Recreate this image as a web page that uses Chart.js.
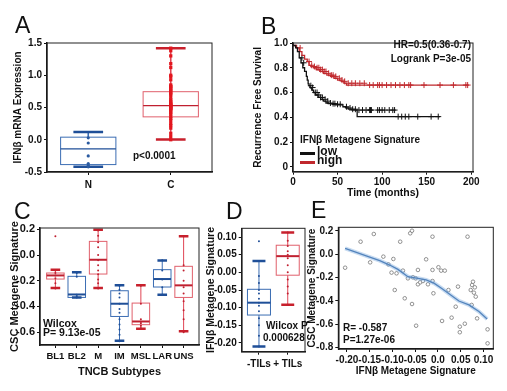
<!DOCTYPE html>
<html>
<head>
<meta charset="utf-8">
<script src="https://cdn.jsdelivr.net/npm/chart.js@4.4.0/dist/chart.umd.min.js"></script>
<style>
html, body { margin: 0; padding: 0; background: #fff; }
#wrap { position: relative; width: 507px; height: 391px; overflow: hidden; font-family: Arial, "Liberation Sans", sans-serif; color: #111; }
canvas { position: absolute; left: 0; top: 0; }
.lbl { position: absolute; white-space: nowrap; line-height: 1; }
.big { font-size: 23px; font-weight: normal; }
.note { font-size: 10px; font-weight: bold; }
.sw { position: absolute; height: 2.5px; width: 15px; }
</style>
</head>
<body>
<div id="wrap">
  <canvas id="cA" width="507" height="391"></canvas>
  <canvas id="cB" width="507" height="391"></canvas>
  <canvas id="cC" width="507" height="391"></canvas>
  <canvas id="cD" width="507" height="391"></canvas>
  <canvas id="cE" width="507" height="391"></canvas>

  <div class="lbl big" style="left:15px;top:14px;">A</div>
  <div class="lbl big" style="left:261px;top:15px;">B</div>
  <div class="lbl big" style="left:14px;top:200px;">C</div>
  <div class="lbl big" style="left:226px;top:200px;">D</div>
  <div class="lbl big" style="left:311px;top:199px;">E</div>

  <div class="lbl note" style="left:133px;top:151px;">p&lt;0.0001</div>

  <div class="lbl note" style="right:36px;top:40px;text-align:right;">HR=0.5(0.36-0.7)</div>
  <div class="lbl note" style="right:36px;top:54px;text-align:right;">Logrank P=3e-05</div>
  <div class="lbl note" style="left:300px;top:135px;">IFNβ Metagene Signature</div>
  <div class="sw" style="left:300px;top:152px;background:#111;"></div>
  <div class="lbl note" style="left:317px;top:145px;font-size:12px;">low</div>
  <div class="sw" style="left:300px;top:161px;background:#c0282d;"></div>
  <div class="lbl note" style="left:317px;top:154px;font-size:12px;">high</div>

  <div class="lbl note" style="left:43px;top:318px;font-size:10.5px;">Wilcox</div>
  <div class="lbl note" style="left:43px;top:327px;font-size:10.5px;">P= 9.13e-05</div>

  <div class="lbl note" style="left:266px;top:321px;">Wilcox P</div>
  <div class="lbl note" style="left:263px;top:333px;">0.000628</div>

  <div class="lbl note" style="left:343px;top:323px;">R= -0.587</div>
  <div class="lbl note" style="left:343px;top:335px;">P=1.27e-06</div>
</div>

<script>
// ---- Panel A: IFNb mRNA expression, normal vs cancer
const aCats = ['N', 'C'];
const aStats = [            // [low whisker, q1, median, q3, high whisker]
    [-0.42, -0.385, -0.14, 0.04, 0.12],
    [0.005, 0.355, 0.53, 0.745, 1.42]
];
const aPointsN = [0.03, -0.05, -0.25, -0.37, -0.40, -0.42];
const aPointsC = [1.42, 1.38, 1.30, 1.18, 1.12, 1.0, 0.98, 0.93, 0.85, 0.83, 0.82, 0.80, 0.78, 0.76,
    0.74, 0.72, 0.70, 0.66, 0.62, 0.60, 0.58, 0.56, 0.55, 0.54, 0.53, 0.52, 0.51, 0.50, 0.49, 0.48,
    0.47, 0.45, 0.42, 0.40, 0.36, 0.33, 0.30, 0.25, 0.22, 0.18, 0.10, 0.05, 0.0];
const aYTicks = [-0.5, 0, 0.5, 1.0, 1.5];

// ---- Panel B: Kaplan-Meier, recurrence free survival
const lowT = [0, 3, 5, 7, 9, 11, 13, 15, 16, 17, 18, 19, 21, 23, 25, 28, 31, 34, 37, 40, 44, 48, 56, 59, 62, 66, 72, 116, 165];
const lowS = [1.0, 0.98, 0.96, 0.93, 0.88, 0.84, 0.80, 0.77, 0.73, 0.70, 0.67, 0.655, 0.64, 0.62, 0.60, 0.58, 0.56, 0.545, 0.53, 0.515, 0.51, 0.505, 0.50, 0.485, 0.475, 0.465, 0.458, 0.405, 0.405];
const highT = [0, 4, 7, 10, 13, 16, 18, 20, 23, 26, 30, 34, 38, 42, 46, 50, 54, 57, 60, 85, 197];
const highS = [1.0, 0.98, 0.96, 0.93, 0.90, 0.87, 0.85, 0.82, 0.81, 0.80, 0.785, 0.77, 0.755, 0.74, 0.73, 0.715, 0.70, 0.69, 0.675, 0.66, 0.66];
const lowCensor = [10, 12, 20, 22, 25, 27, 29, 31, 33, 36, 39, 42, 45, 47, 50, 53, 60, 64, 67, 70, 74, 78, 82, 86, 87, 88,
    95, 97, 100, 103, 108, 112, 114, 118, 122, 126, 130, 140, 155, 163];
const highCensor = [8, 18, 21, 24, 27, 29, 31, 33, 35, 37, 40, 43, 45, 48, 52, 55, 58, 62, 66, 70, 75, 80, 86, 90, 95, 97,
    100, 105, 110, 115, 120, 125, 130, 132, 147, 165, 180, 194, 196];
const bXTicks = [0, 50, 100, 150, 200];
const bYTicks = [0, 0.2, 0.4, 0.6, 0.8, 1.0];

// ---- Panel C: CSC metagene by TNBC subtype
const cCats = ['BL1', 'BL2', 'M', 'IM', 'MSL', 'LAR', 'UNS'];
const cStats = [
    [-0.257, -0.187, -0.159, -0.14, -0.114],
    [-0.33, -0.33, -0.307, -0.166, -0.135],
    [-0.257, -0.148, -0.037, 0.106, 0.197],
    [-0.667, -0.478, -0.379, -0.278, -0.236],
    [-0.574, -0.542, -0.517, -0.374, -0.236],
    [-0.309, -0.249, -0.187, -0.114, -0.042],
    [-0.594, -0.33, -0.236, -0.088, 0.145]
];
const cPoints = [
    [0.145, -0.12, -0.14, -0.16, -0.18, -0.22, -0.26],
    [-0.14, -0.17, -0.31, -0.32, -0.33],
    [0.19, 0.15, 0.10, 0.06, 0.0, -0.04, -0.08, -0.12, -0.15, -0.19, -0.22, -0.26],
    [-0.24, -0.27, -0.30, -0.33, -0.38, -0.42, -0.45, -0.50, -0.54, -0.58, -0.62, -0.67],
    [-0.24, -0.38, -0.50, -0.52, -0.53, -0.55, -0.57],
    [-0.04, -0.12, -0.19, -0.25, -0.31],
    [0.145, -0.08, -0.12, -0.2, -0.25, -0.3, -0.36, -0.43, -0.5, -0.6]
];
const cColors = ['red', 'blue', 'red', 'blue', 'red', 'blue', 'red'];
const cYTicks = [-0.6, -0.4, -0.2, 0, 0.2];

// ---- Panel D: IFNb metagene vs TILs
const dCats = ['-TILs', '+ TILs'];
const dStats = [
    [-0.21, -0.121, -0.086, -0.048, 0.032],
    [-0.092, -0.008, 0.046, 0.077, 0.113]
];
const dPoints = [
    [0.088, 0.032, -0.01, -0.03, -0.05, -0.06, -0.075, -0.086, -0.095, -0.11, -0.13, -0.15, -0.18, -0.21],
    [0.113, 0.09, 0.075, 0.06, 0.05, 0.04, 0.02, 0.0, -0.02, -0.04, -0.06, -0.092]
];
const dYTicks = [-0.2, -0.15, -0.1, -0.05, 0, 0.05, 0.1];

// ---- Panel E: CSC vs IFNb metagene scatter with smooth fit
const eX = [-0.204, -0.170, -0.149, -0.141, -0.120, -0.109, -0.098, -0.102, -0.091, -0.095, -0.083, -0.073, -0.066,
    -0.061, -0.057, -0.057, -0.055, -0.049, -0.048, -0.044, -0.044, -0.039, -0.033, -0.026, -0.022, -0.012, -0.012,
    -0.010, -0.012, 0.001, 0.007, 0.015, 0.009, 0.023, 0.030, 0.039, 0.044, 0.048, 0.048, 0.059, 0.065, 0.072, 0.075,
    0.077, 0.079, 0.081, 0.074, 0.083, 0.086, 0.109, 0.109, -0.077];
const eY = [-0.115, 0.108, -0.069, 0.174, -0.02, -0.086, -0.04, -0.157, -0.163, -0.306, 0.108, -0.377, -0.206,
    0.18, 0.202, -0.426, -0.197, -0.206, -0.612, -0.134, -0.257, -0.24, -0.229, -0.043, -0.257, 0.151, -0.134,
    -0.334, -0.229, -0.111, -0.14, -0.14, -0.571, -0.306, -0.543, -0.449, -0.277, -0.62, -0.668, -0.595, 0.151,
    -0.306, -0.263, -0.235, -0.329, -0.283, -0.434, -0.363, -0.549, -0.643, -0.763, -0.14];
const fitX = [-0.204, -0.153, -0.128, -0.106, -0.088, -0.066, -0.044, -0.026, -0.008, 0.010, 0.028, 0.046, 0.068, 0.090, 0.108];
const fitY = [0.051, -0.02, -0.055, -0.092, -0.129, -0.192, -0.206, -0.22, -0.249, -0.297, -0.349, -0.40, -0.434, -0.49, -0.554];
const eXTicks = [-0.2, -0.15, -0.1, -0.05, 0, 0.05, 0.1];
const eYTicks = [-0.8, -0.6, -0.4, -0.2, 0, 0.2];

// ---- shared look
const FONT = 'Arial, "Liberation Sans", sans-serif';
Chart.defaults.font.family = FONT;
Chart.defaults.font.weight = 'bold';
Chart.defaults.color = '#111';

const palette = {
    blue: { line: '#3b6db3', whisker: '#3b6db3', median: '#1f4f98', cap: '#1f4f98', point: '#2a5aa0' },
    red: { line: '#e0606c', whisker: '#e04555', median: '#c02030', cap: '#c8202c', point: '#d91c26' }
};

// full box around the plot area
Chart.register({
    id: 'frame',
    afterDraw(chart) {
        const { ctx, chartArea: a } = chart;
        ctx.save();
        ctx.strokeStyle = '#222';
        ctx.lineWidth = 1;
        ctx.strokeRect(a.left, a.top, a.right - a.left, a.bottom - a.top);
        ctx.restore();
    }
});

// box + whiskers drawn from the stats through the chart scales
function boxPlugin(stats, colors, cfg) {
    return {
        id: 'boxes',
        beforeDatasetsDraw(chart) {
            const { ctx, scales: { x, y } } = chart;
            stats.forEach((s, i) => {
                const col = palette[colors[i]];
                const cx = x.getPixelForValue(i);
                const bw = x.getPixelForValue(i + cfg.boxWidth / 2) - cx;
                const cw = x.getPixelForValue(i + cfg.capWidth / 2) - cx;
                const [lo, q1, med, q3, hi] = s.map(v => y.getPixelForValue(v));
                ctx.save();
                ctx.strokeStyle = col.whisker;
                ctx.lineWidth = cfg.whiskerWidth;
                ctx.beginPath();
                ctx.moveTo(cx, hi); ctx.lineTo(cx, q3);
                ctx.moveTo(cx, q1); ctx.lineTo(cx, lo);
                ctx.stroke();
                ctx.strokeStyle = col.line;
                ctx.lineWidth = cfg.boxLine;
                ctx.strokeRect(cx - bw, q3, 2 * bw, q1 - q3);
                ctx.strokeStyle = col.median;
                ctx.lineWidth = cfg.medianWidth;
                ctx.beginPath();
                ctx.moveTo(cx - bw, med); ctx.lineTo(cx + bw, med);
                ctx.stroke();
                ctx.strokeStyle = col.cap;
                ctx.lineWidth = cfg.capLine;
                ctx.beginPath();
                ctx.moveTo(cx - cw, hi); ctx.lineTo(cx + cw, hi);
                ctx.moveTo(cx - cw, lo); ctx.lineTo(cx + cw, lo);
                ctx.stroke();
                ctx.restore();
            });
        }
    };
}

function axis(o) {
    return {
        type: 'linear',
        min: o.min,
        max: o.max,
        afterBuildTicks: s => { s.ticks = o.ticks.map(v => ({ value: v })); },
        afterFit: s => { if (o.width != null) s.width = o.width; if (o.height != null) s.height = o.height; },
        ticks: {
            callback: o.fmt,
            padding: o.tickPad ?? 2,
            autoSkip: false,
            maxRotation: 0,
            minRotation: 0,
            font: { size: o.tickSize || 10, weight: 'bold' },
            color: '#111'
        },
        grid: { drawOnChartArea: false, drawTicks: true, tickLength: 3, color: '#111', lineWidth: 1 },
        border: { display: true, color: '#111', width: 1.5 },
        title: {
            display: !!o.title,
            text: o.title,
            padding: { top: o.titlePad || 0, bottom: 0 },
            font: { size: o.titleSize || 10, weight: 'bold' },
            color: '#111'
        }
    };
}

function baseOptions(padding, x, y) {
    return {
        responsive: false,
        devicePixelRatio: 1,
        animation: false,
        layout: { padding },
        plugins: { legend: { display: false }, tooltip: { enabled: false } },
        scales: { x, y }
    };
}

function groupData(vals, i) {
    return vals.map(v => ({ x: i, y: v }));
}

function survAt(ts, ss, t) {
    let v = ss[0];
    for (let i = 0; i < ts.length; i++) if (ts[i] <= t) v = ss[i];
    return v;
}

// ---- Panel A
new Chart(document.getElementById('cA'), {
    type: 'scatter',
    data: {
        datasets: [
            { data: groupData(aPointsN, 0), pointStyle: 'circle', pointRadius: 1.6, backgroundColor: palette.blue.point, borderWidth: 0 },
            { data: groupData(aPointsC, 1), pointStyle: 'rect', pointRadius: 2.3, backgroundColor: '#e3161e', borderWidth: 0 }
        ]
    },
    options: baseOptions({ left: 0, top: 43, right: 295, bottom: 199 },
        axis({ min: -0.5, max: 1.5, ticks: [0, 1], fmt: v => aCats[v], height: 20, tickPad: 4 }),
        axis({ min: -0.5, max: 1.5, ticks: aYTicks, fmt: v => v.toFixed(1), width: 47,
            title: 'IFNβ mRNA Expression', titlePad: 12 })),
    plugins: [boxPlugin(aStats, ['blue', 'red'], { boxWidth: 0.67, capWidth: 0.36, boxLine: 1, whiskerWidth: 1.6, medianWidth: 1.2, capLine: 2.5 })]
});

// ---- Panel B
new Chart(document.getElementById('cB'), {
    type: 'scatter',
    data: {
        datasets: [
            { type: 'line', data: lowT.map((t, i) => ({ x: t, y: lowS[i] })), stepped: 'after', borderColor: '#111', borderWidth: 1.3, pointRadius: 0, fill: false },
            { type: 'line', data: highT.map((t, i) => ({ x: t, y: highS[i] })), stepped: 'after', borderColor: '#c0282d', borderWidth: 1.3, pointRadius: 0, fill: false },
            { data: lowCensor.map(t => ({ x: t, y: survAt(lowT, lowS, t) })), pointStyle: 'cross', pointRadius: 3, borderColor: '#111', borderWidth: 1 },
            { data: highCensor.map(t => ({ x: t, y: survAt(highT, highS, t) })), pointStyle: 'cross', pointRadius: 3, borderColor: '#c0282d', borderWidth: 1 }
        ]
    },
    options: baseOptions({ left: 252, top: 43, right: 34, bottom: 192 },
        axis({ min: 0, max: 202, ticks: bXTicks, fmt: v => String(v), height: 27.3, title: 'Time (months)', titleSize: 10.5 }),
        axis({ min: -0.04, max: 1.0, ticks: bYTicks, fmt: v => v === 0 ? '0' : v.toFixed(1), width: 41,
            title: 'Recurrence Free Survival' }))
});

// ---- Panel C
new Chart(document.getElementById('cC'), {
    type: 'scatter',
    data: {
        datasets: cPoints.map((vals, i) => ({
            data: groupData(vals, i), pointRadius: 1, backgroundColor: palette[cColors[i]].median, borderWidth: 0
        }))
    },
    options: baseOptions({ left: 0, top: 228, right: 308, bottom: 12.7 },
        axis({ min: -0.72, max: 6.72, ticks: [0, 1, 2, 3, 4, 5, 6], fmt: v => cCats[v], height: 33.3, tickPad: 3,
            tickSize: 9.5, title: 'TNCB Subtypes', titleSize: 11 }),
        axis({ min: -0.7, max: 0.21, ticks: cYTicks, fmt: v => v.toFixed(1), width: 40, tickSize: 11,
            title: 'CSC Metagene Signature', titleSize: 11, titlePad: 8.4 })),
    plugins: [boxPlugin(cStats, cColors, { boxWidth: 0.82, capWidth: 0.45, boxLine: 1, whiskerWidth: 1, medianWidth: 2, capLine: 2.5 })]
});

// ---- Panel D
new Chart(document.getElementById('cD'), {
    type: 'scatter',
    data: {
        datasets: dPoints.map((vals, i) => ({
            data: groupData(vals, i), pointRadius: 1, backgroundColor: palette[['blue', 'red'][i]].median, borderWidth: 0
        }))
    },
    options: baseOptions({ left: 204.7, top: 228.3, right: 202, bottom: 9.3 },
        axis({ min: -0.6, max: 1.6, ticks: [0, 1], fmt: v => dCats[v], height: 30, tickPad: 4 }),
        axis({ min: -0.225, max: 0.125, ticks: dYTicks, fmt: v => v.toFixed(2), width: 37,
            title: 'IFNβ Metagene Signature', titleSize: 10.5 })),
    plugins: [boxPlugin(dStats, ['blue', 'red'], { boxWidth: 0.8, capWidth: 0.45, boxLine: 1, whiskerWidth: 1, medianWidth: 2, capLine: 2.5 })]
});

// ---- Panel E
new Chart(document.getElementById('cE'), {
    type: 'scatter',
    data: {
        datasets: [
            { type: 'line', data: fitX.map((v, i) => ({ x: v, y: fitY[i] })), borderColor: 'rgba(130,175,225,0.45)', borderWidth: 4, pointRadius: 0, fill: false },
            { type: 'line', data: fitX.map((v, i) => ({ x: v, y: fitY[i] })), borderColor: '#2e62a0', borderWidth: 1.3, pointRadius: 0, fill: false },
            { data: eX.map((v, i) => ({ x: v, y: eY[i] })), pointStyle: 'circle', pointRadius: 1.8, backgroundColor: '#fff', borderColor: '#777', borderWidth: 0.8 }
        ]
    },
    options: baseOptions({ left: 306.7, top: 227.3, right: 13.7, bottom: 13.3 },
        axis({ min: -0.219, max: 0.1216, ticks: eXTicks, fmt: v => v === 0 ? '0.0' : v.toFixed(2), height: 28.7,
            title: 'IFNβ Metagene Signature' }),
        axis({ min: -0.8115, max: 0.2314, ticks: eYTicks, fmt: v => v.toFixed(1), width: 31.6,
            title: 'CSC Metagene Signature' }))
});
</script>
</body>
</html>
